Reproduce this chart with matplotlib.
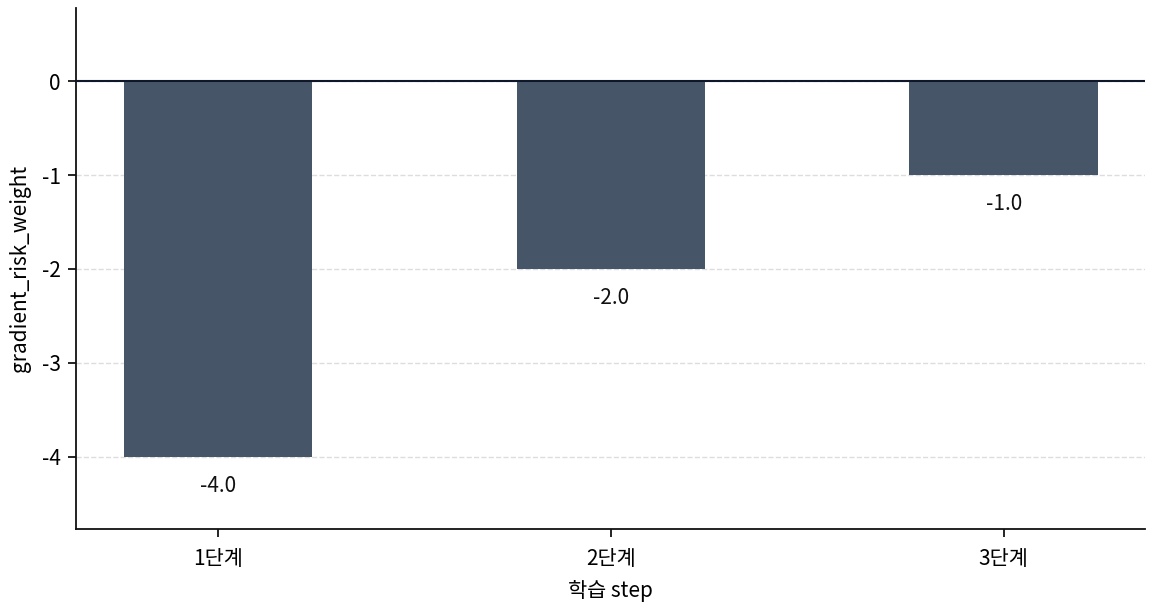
import matplotlib
matplotlib.use("Agg")
import matplotlib.pyplot as plt

plt.rcParams['font.family'] = ['Noto Sans CJK KR', 'DejaVu Sans']

# Data
steps = ["1단계", "2단계", "3단계"]
values = [-4.0, -2.0, -1.0]
y_ticks = [0, -1, -2, -3, -4]

bar_color = "#475569"

fig, ax = plt.subplots(figsize=(11.52, 6.08), dpi=100)
fig.subplots_adjust(left=0.066, right=0.994, top=0.987, bottom=0.13)

x = list(range(len(steps)))
ax.bar(x, values, width=0.48, color=bar_color, zorder=2)

for xi, v in zip(x, values):
    ax.annotate(f"{v:.1f}", (xi, v), xytext=(0, -13), textcoords="offset points",
                ha="center", va="top", fontsize=15, color="#111111")

ax.axhline(0, color="#0f172a", linewidth=1.5, zorder=3)

ax.set_xticks(x)
ax.set_xticklabels(steps, fontsize=15)
ax.set_yticks(y_ticks)
ax.set_yticklabels([str(t) for t in y_ticks], fontsize=15)
ax.tick_params(length=6, width=1.2, pad=5)
ax.tick_params(axis="x", pad=8)
ax.set_xlim(-0.362, 2.36)
ax.set_ylim(-4.77, 0.78)

ax.yaxis.grid(True, linestyle="--", color="#dddddd", linewidth=1, zorder=0)
ax.set_axisbelow(True)

for side in ["top", "right"]:
    ax.spines[side].set_visible(False)
for side in ["left", "bottom"]:
    ax.spines[side].set_color("#111111")
    ax.spines[side].set_linewidth(1.3)

ax.set_xlabel("학습 step", fontsize=15, labelpad=7)
ax.set_ylabel("gradient_risk_weight", fontsize=15, labelpad=8)

fig.savefig("out.png", dpi=100)
